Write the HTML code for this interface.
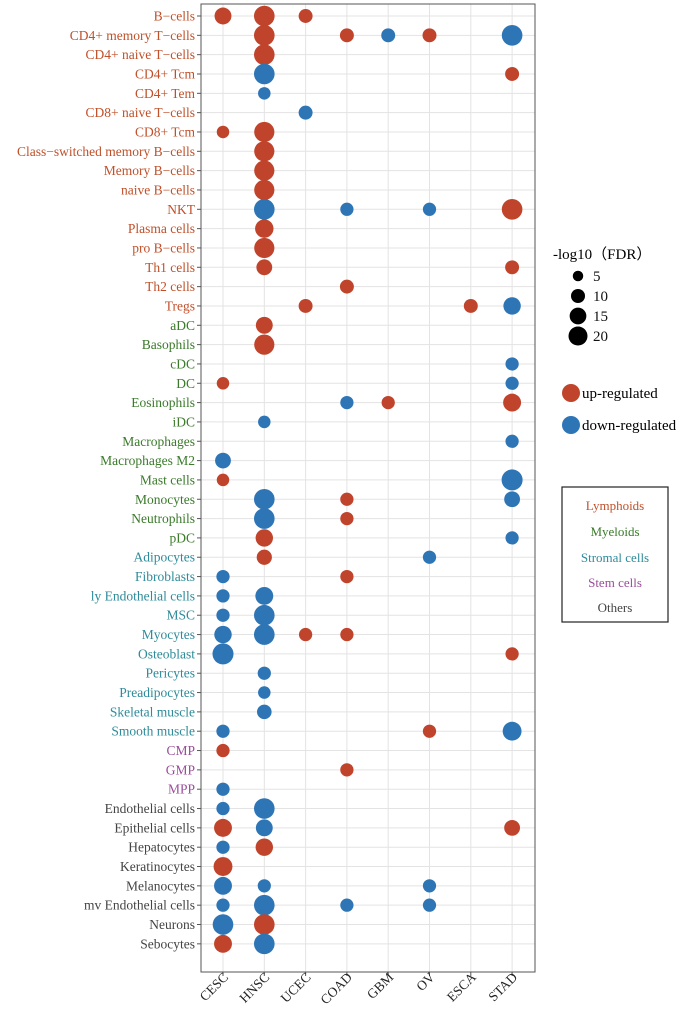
<!DOCTYPE html>
<html><head><meta charset="utf-8"><style>
body{margin:0;background:#fff;}
svg text{font-family:"Liberation Serif",serif;}
</style></head><body>
<svg id="chart" width="691" height="1005" viewBox="0 0 691 1005" xmlns="http://www.w3.org/2000/svg">
<g id="grid"></g><g id="marks"></g><g id="labels"></g>
<rect x="201" y="4" width="334" height="968" fill="none" stroke="#555" stroke-width="1"/>
<g>
<text x="553" y="259" font-size="15">-log10（FDR）</text>
</g>
<g id="sizeleg"></g>
<g>
<circle cx="571" cy="393" r="9" fill="#C0432B"/>
<text x="582" y="398" font-size="15">up-regulated</text>
<circle cx="571" cy="425" r="9" fill="#2E75B6"/>
<text x="582" y="430" font-size="15">down-regulated</text>
</g>
<g>
<rect x="562" y="487" width="106" height="135" fill="none" stroke="#222" stroke-width="1.2"/>
<text x="615" y="510" font-size="13" text-anchor="middle" fill="#C0502A">Lymphoids</text>
<text x="615" y="536" font-size="13" text-anchor="middle" fill="#3A7A2A">Myeloids</text>
<text x="615" y="562" font-size="13" text-anchor="middle" fill="#2E8B9A">Stromal cells</text>
<text x="615" y="587" font-size="13" text-anchor="middle" fill="#9A4C9A">Stem cells</text>
<text x="615" y="612" font-size="13" text-anchor="middle" fill="#444">Others</text>
</g>
</svg>
<script>
const cancers=["CESC","HNSC","UCEC","COAD","GBM","OV","ESCA","STAD"];
const cellTypes=["B−cells","CD4+ memory T−cells","CD4+ naive T−cells","CD4+ Tcm","CD4+ Tem","CD8+ naive T−cells","CD8+ Tcm","Class−switched memory B−cells","Memory B−cells","naive B−cells","NKT","Plasma cells","pro B−cells","Th1 cells","Th2 cells","Tregs","aDC","Basophils","cDC","DC","Eosinophils","iDC","Macrophages","Macrophages M2","Mast cells","Monocytes","Neutrophils","pDC","Adipocytes","Fibroblasts","ly Endothelial cells","MSC","Myocytes","Osteoblast","Pericytes","Preadipocytes","Skeletal muscle","Smooth muscle","CMP","GMP","MPP","Endothelial cells","Epithelial cells","Hepatocytes","Keratinocytes","Melanocytes","mv Endothelial cells","Neurons","Sebocytes"];
const cellGroups=[0,0,0,0,0,0,0,0,0,0,0,0,0,0,0,0,1,1,1,1,1,1,1,1,1,1,1,1,2,2,2,2,2,2,2,2,2,2,3,3,3,4,4,4,4,4,4,4,4];
const groupColors=["#C0502A","#3A7A2A","#2E8B9A","#9A4C9A","#444444"];
// points: [rowIndex, cancer, direction(1 up,-1 down), -log10 FDR]
const pts=[
[0,"CESC",1,13],[0,"HNSC",1,21],[0,"UCEC",1,8],
[1,"HNSC",1,21],[1,"COAD",1,8],[1,"GBM",-1,8],[1,"OV",1,8],[1,"STAD",-1,21],
[2,"HNSC",1,21],
[3,"HNSC",-1,21],[3,"STAD",1,8],
[4,"HNSC",-1,6],
[5,"UCEC",-1,8],
[6,"CESC",1,6],[6,"HNSC",1,20],
[7,"HNSC",1,20],[8,"HNSC",1,20],[9,"HNSC",1,20],
[10,"HNSC",-1,21],[10,"COAD",-1,7],[10,"OV",-1,7],[10,"STAD",1,21],
[11,"HNSC",1,16],[12,"HNSC",1,20],
[13,"HNSC",1,11],[13,"STAD",1,8],
[14,"COAD",1,8],
[15,"UCEC",1,8],[15,"ESCA",1,8],[15,"STAD",-1,14],
[16,"HNSC",1,13],[17,"HNSC",1,20],
[18,"STAD",-1,7],
[19,"CESC",1,6],[19,"STAD",-1,7],
[20,"COAD",-1,7],[20,"GBM",1,7],[20,"STAD",1,15],
[21,"HNSC",-1,6],
[22,"STAD",-1,7],
[23,"CESC",-1,11],
[24,"CESC",1,6],[24,"STAD",-1,22],
[25,"HNSC",-1,21],[25,"COAD",1,7],[25,"STAD",-1,11],
[26,"HNSC",-1,21],[26,"COAD",1,7],
[27,"HNSC",1,14],[27,"STAD",-1,7],
[28,"HNSC",1,10],[28,"OV",-1,7],
[29,"CESC",-1,7],[29,"COAD",1,7],
[30,"CESC",-1,7],[30,"HNSC",-1,15],
[31,"CESC",-1,7],[31,"HNSC",-1,21],
[32,"CESC",-1,14],[32,"HNSC",-1,21],[32,"UCEC",1,7],[32,"COAD",1,7],
[33,"CESC",-1,22],[33,"STAD",1,7],
[34,"HNSC",-1,7],[35,"HNSC",-1,6],[36,"HNSC",-1,9],
[37,"CESC",-1,7],[37,"OV",1,7],[37,"STAD",-1,17],
[38,"CESC",1,7],[39,"COAD",1,7],[40,"CESC",-1,7],
[41,"CESC",-1,7],[41,"HNSC",-1,21],
[42,"CESC",1,15],[42,"HNSC",-1,13],[42,"STAD",1,11],
[43,"CESC",-1,7],[43,"HNSC",1,14],
[44,"CESC",1,17],
[45,"CESC",-1,15],[45,"HNSC",-1,7],[45,"OV",-1,7],
[46,"CESC",-1,7],[46,"HNSC",-1,21],[46,"COAD",-1,7],[46,"OV",-1,7],
[47,"CESC",-1,21],[47,"HNSC",1,21],
[48,"CESC",1,15],[48,"HNSC",-1,21]
];
const sizeLegendValues=[5,10,15,20];

const NS="http://www.w3.org/2000/svg";
const xScale=c=>223+cancers.indexOf(c)*41.3;
const yScale=i=>16+i*19.33;
const rScale=v=>1.6+1.9*Math.sqrt(v);
function mk(tag,attrs,parent){const e=document.createElementNS(NS,tag);for(const k in attrs)e.setAttribute(k,attrs[k]);parent.appendChild(e);return e;}
const grid=document.getElementById("grid"),marks=document.getElementById("marks"),labels=document.getElementById("labels");
cellTypes.forEach((c,i)=>{
  const y=yScale(i);
  const l=mk("line",{x1:201,x2:535,y1:y,y2:y,stroke:"#e3e3e3","stroke-width":1},grid);
  
  
  const tk=mk("line",{x1:197,x2:201,y1:y,y2:y,stroke:"#555"},grid);
  
  
  const t=mk("text",{x:195,y:y+4.5,"font-size":13.5,"text-anchor":"end",fill:groupColors[cellGroups[i]]},labels);
  t.textContent=c;
  
  
});
cancers.forEach(c=>{
  const x=xScale(c);
  const l=mk("line",{x1:x,x2:x,y1:4,y2:972,stroke:"#e3e3e3","stroke-width":1},grid);
  
  
  const tk=mk("line",{x1:x,x2:x,y1:972,y2:976,stroke:"#555"},grid);
  
  
  const t=mk("text",{x:x+6,y:978,"font-size":13.5,"text-anchor":"end",transform:`rotate(-45 ${x+6} 978)`,fill:"#222"},labels);
  t.textContent=c;
  
  
});
pts.forEach(p=>{
  const c=mk("circle",{cx:xScale(p[1]),cy:yScale(p[0]),r:rScale(p[3]),fill:p[2]>0?"#C0432B":"#2E75B6"},marks);
  
  
});
const sl=document.getElementById("sizeleg");
sizeLegendValues.forEach((v,i)=>{
  const y=276+i*20;
  const c=mk("circle",{cx:578,cy:y,r:rScale(v)-0.6,fill:"#000"},sl);
  
  
  const t=mk("text",{x:593,y:y+5,"font-size":15,fill:"#111"},sl);
  t.textContent=v;
  
  
});
</script>
</body></html>
